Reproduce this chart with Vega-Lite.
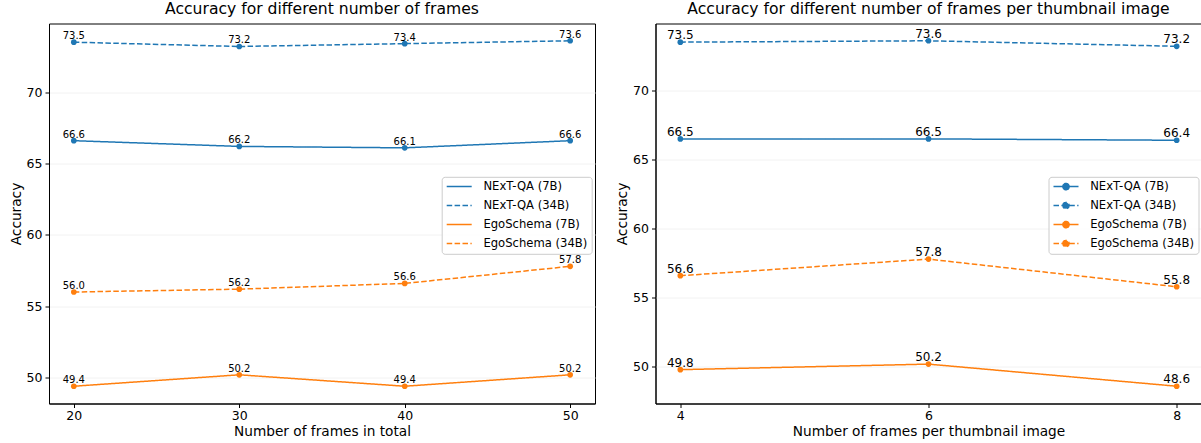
{
  "$schema": "https://vega.github.io/schema/vega-lite/v6.json",
  "padding": {"left": 8, "top": 1.5, "right": 0, "bottom": 0},
  "spacing": 18.5,
  "config": {
    "font": "DejaVu Sans",
    "view": {"stroke": "#000000", "strokeWidth": 1},
    "axis": {
      "labelFont": "DejaVu Sans", "labelFontSize": 12.5, "labelColor": "#000000",
      "titleFont": "DejaVu Sans", "titleFontSize": 13.7, "titleFontWeight": "normal", "titleColor": "#000000",
      "domainColor": "#000000", "domainWidth": 1, "tickColor": "#000000", "tickSize": 4, "tickWidth": 1,
      "labelPadding": 3, "titlePadding": 3, "grid": false
    },
    "axisX": {"labelPadding": 1.5, "titlePadding": 3},
    "axisY": {"grid": true, "gridColor": "#f2f2f2", "gridWidth": 1},
    "title": {"font": "DejaVu Sans", "fontSize": 15.6, "fontWeight": "normal", "color": "#000000", "anchor": "middle", "baseline": "alphabetic", "offset": 5.5},
    "legend": {
      "orient": "none", "title": null,
      "labelFont": "DejaVu Sans", "labelFontSize": 11.6, "labelColor": "#000000",
      "fillColor": "rgba(255,255,255,0.85)", "strokeColor": "#cccccc", "cornerRadius": 3, "padding": 4,
      "symbolSize": 625, "symbolStrokeWidth": 1.5, "labelOffset": 10.7,
      "clipHeight": 11.6, "rowPadding": 6
    }
  },
  "datasets": {
    "left": [
      {"x": 20, "series": "NExT-QA (7B)", "acc": 66.6},
      {"x": 30, "series": "NExT-QA (7B)", "acc": 66.2},
      {"x": 40, "series": "NExT-QA (7B)", "acc": 66.1},
      {"x": 50, "series": "NExT-QA (7B)", "acc": 66.6},
      {"x": 20, "series": "NExT-QA (34B)", "acc": 73.5},
      {"x": 30, "series": "NExT-QA (34B)", "acc": 73.2},
      {"x": 40, "series": "NExT-QA (34B)", "acc": 73.4},
      {"x": 50, "series": "NExT-QA (34B)", "acc": 73.6},
      {"x": 20, "series": "EgoSchema (7B)", "acc": 49.4},
      {"x": 30, "series": "EgoSchema (7B)", "acc": 50.2},
      {"x": 40, "series": "EgoSchema (7B)", "acc": 49.4},
      {"x": 50, "series": "EgoSchema (7B)", "acc": 50.2},
      {"x": 20, "series": "EgoSchema (34B)", "acc": 56.0},
      {"x": 30, "series": "EgoSchema (34B)", "acc": 56.2},
      {"x": 40, "series": "EgoSchema (34B)", "acc": 56.6},
      {"x": 50, "series": "EgoSchema (34B)", "acc": 57.8}
    ],
    "right": [
      {"x": 4, "series": "NExT-QA (7B)", "acc": 66.5},
      {"x": 6, "series": "NExT-QA (7B)", "acc": 66.5},
      {"x": 8, "series": "NExT-QA (7B)", "acc": 66.4},
      {"x": 4, "series": "NExT-QA (34B)", "acc": 73.5},
      {"x": 6, "series": "NExT-QA (34B)", "acc": 73.6},
      {"x": 8, "series": "NExT-QA (34B)", "acc": 73.2},
      {"x": 4, "series": "EgoSchema (7B)", "acc": 49.8},
      {"x": 6, "series": "EgoSchema (7B)", "acc": 50.2},
      {"x": 8, "series": "EgoSchema (7B)", "acc": 48.6},
      {"x": 4, "series": "EgoSchema (34B)", "acc": 56.6},
      {"x": 6, "series": "EgoSchema (34B)", "acc": 57.8},
      {"x": 8, "series": "EgoSchema (34B)", "acc": 55.8}
    ]
  },
  "hconcat": [
    {
      "title": "Accuracy for different number of frames",
      "width": 546, "height": 380,
      "data": {"name": "left"},
      "encoding": {
        "x": {"field": "x", "type": "quantitative", "scale": {"domain": [18.5, 51.5], "nice": false, "zero": false},
              "axis": {"values": [20, 30, 40, 50], "title": "Number of frames in total"}},
        "y": {"field": "acc", "type": "quantitative", "scale": {"domain": [48.19, 74.81], "nice": false, "zero": false},
              "axis": {"values": [50, 55, 60, 65, 70], "title": "Accuracy"}}
      },
      "layer": [
        {
          "mark": {"type": "line", "strokeWidth": 1.5},
          "encoding": {
            "color": {"field": "series", "type": "nominal",
              "scale": {"domain": ["NExT-QA (7B)", "NExT-QA (34B)", "EgoSchema (7B)", "EgoSchema (34B)"], "range": ["#1f77b4", "#1f77b4", "#ff7f0e", "#ff7f0e"]},
              "legend": {"legendX": 392.7, "legendY": 153.3, "symbolType": "stroke"}},
            "strokeDash": {"field": "series", "type": "nominal",
              "scale": {"domain": ["NExT-QA (7B)", "NExT-QA (34B)", "EgoSchema (7B)", "EgoSchema (34B)"], "range": [[1, 0], [5.5, 2.4], [1, 0], [5.5, 2.4]]},
              "legend": {"legendX": 392.7, "legendY": 153.3, "symbolType": "stroke"}}
          }
        },
        {
          "mark": {"type": "point", "filled": true, "size": 32, "opacity": 1},
          "encoding": {
            "color": {"field": "series", "type": "nominal",
              "scale": {"domain": ["NExT-QA (7B)", "NExT-QA (34B)", "EgoSchema (7B)", "EgoSchema (34B)"], "range": ["#1f77b4", "#1f77b4", "#ff7f0e", "#ff7f0e"]},
              "legend": null}
          }
        },
        {
          "mark": {"type": "text", "fontSize": 10, "color": "#000000", "baseline": "alphabetic", "dy": -3},
          "encoding": {"text": {"field": "acc", "type": "quantitative", "format": ".1f"}}
        }
      ]
    },
    {
      "title": "Accuracy for different number of frames per thumbnail image",
      "width": 546, "height": 380,
      "data": {"name": "right"},
      "encoding": {
        "x": {"field": "x", "type": "quantitative", "scale": {"domain": [3.8, 8.2], "nice": false, "zero": false},
              "axis": {"values": [4, 6, 8], "title": "Number of frames per thumbnail image"}},
        "y": {"field": "acc", "type": "quantitative", "scale": {"domain": [47.35, 74.85], "nice": false, "zero": false},
              "axis": {"values": [50, 55, 60, 65, 70], "title": "Accuracy"}}
      },
      "layer": [
        {
          "mark": {"type": "line", "strokeWidth": 1.5},
          "encoding": {
            "color": {"field": "series", "type": "nominal",
              "scale": {"domain": ["NExT-QA (7B)", "NExT-QA (34B)", "EgoSchema (7B)", "EgoSchema (34B)"], "range": ["#1f77b4", "#1f77b4", "#ff7f0e", "#ff7f0e"]},
              "legend": {"legendX": 393, "legendY": 153.3,
                "symbolType": "M-1,0L1,0M-0.25,0A0.25,0.25,0,1,1,0.25,0A0.25,0.25,0,1,1,-0.25,0Z",
                "encode": {"symbols": {"update": {"fill": {"signal": "indexof(['NExT-QA (7B)','NExT-QA (34B)'], datum.value) >= 0 ? '#1f77b4' : '#ff7f0e'"}, "fillOpacity": {"value": 1}}}}}},
            "strokeDash": {"field": "series", "type": "nominal",
              "scale": {"domain": ["NExT-QA (7B)", "NExT-QA (34B)", "EgoSchema (7B)", "EgoSchema (34B)"], "range": [[1, 0], [5.5, 2.4], [1, 0], [5.5, 2.4]]},
              "legend": {"legendX": 393, "legendY": 153.3,
                "symbolType": "M-1,0L1,0M-0.25,0A0.25,0.25,0,1,1,0.25,0A0.25,0.25,0,1,1,-0.25,0Z",
                "encode": {"symbols": {"update": {"fill": {"signal": "indexof(['NExT-QA (7B)','NExT-QA (34B)'], datum.value) >= 0 ? '#1f77b4' : '#ff7f0e'"}, "fillOpacity": {"value": 1}}}}}}
          }
        },
        {
          "mark": {"type": "point", "filled": true, "size": 32, "opacity": 1},
          "encoding": {
            "color": {"field": "series", "type": "nominal",
              "scale": {"domain": ["NExT-QA (7B)", "NExT-QA (34B)", "EgoSchema (7B)", "EgoSchema (34B)"], "range": ["#1f77b4", "#1f77b4", "#ff7f0e", "#ff7f0e"]},
              "legend": null}
          }
        },
        {
          "mark": {"type": "text", "fontSize": 12, "color": "#000000", "baseline": "alphabetic", "dy": -3},
          "encoding": {"text": {"field": "acc", "type": "quantitative", "format": ".1f"}}
        }
      ]
    }
  ],
  "resolve": {
    "scale": {"color": "independent", "strokeDash": "independent"},
    "legend": {"color": "independent", "strokeDash": "independent"}
  }
}
